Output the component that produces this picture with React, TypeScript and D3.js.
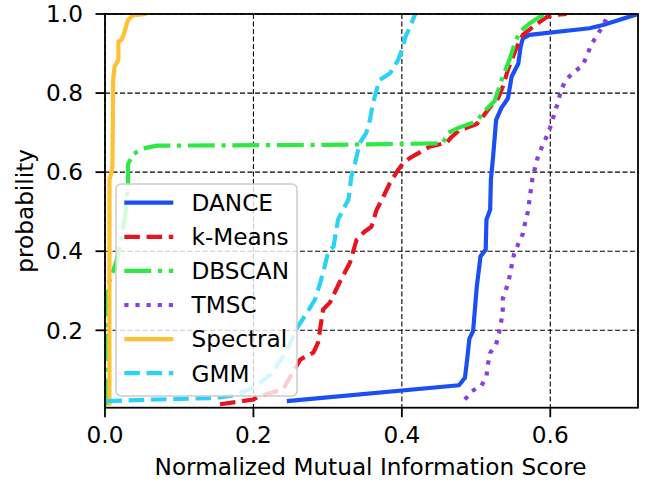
import React from "react";
import * as d3 from "d3";

type P = [number, number];

const xTicks = [0.0, 0.2, 0.4, 0.6];
const yTicks = [0.2, 0.4, 0.6, 0.8, 1.0];
const xLabel = "Normalized Mutual Information Score";
const yLabel = "probability";

const dance: P[] = [
  [0.245, 0.021], [0.477, 0.061], [0.485, 0.08], [0.488, 0.126], [0.491, 0.179],
  [0.496, 0.198], [0.501, 0.311], [0.506, 0.387], [0.513, 0.404], [0.514, 0.48],
  [0.519, 0.505], [0.52, 0.581], [0.523, 0.64], [0.527, 0.732], [0.534, 0.762],
  [0.543, 0.787], [0.548, 0.842], [0.557, 0.875], [0.56, 0.917], [0.563, 0.938],
  [0.572, 0.947], [0.653, 0.964], [0.671, 0.972], [0.718, 1.0],
];
const kmeans: P[] = [
  [0.155, 0.013], [0.2, 0.025], [0.207, 0.033], [0.24, 0.051], [0.263, 0.126],
  [0.281, 0.144], [0.287, 0.169], [0.294, 0.253], [0.303, 0.27], [0.316, 0.321],
  [0.33, 0.371], [0.339, 0.429], [0.35, 0.45], [0.359, 0.462], [0.366, 0.505],
  [0.373, 0.53], [0.384, 0.573], [0.395, 0.606], [0.402, 0.623], [0.411, 0.636],
  [0.438, 0.665], [0.46, 0.674], [0.467, 0.689], [0.478, 0.707], [0.487, 0.712],
  [0.501, 0.722], [0.509, 0.74], [0.519, 0.765], [0.53, 0.788], [0.536, 0.816],
  [0.543, 0.859], [0.548, 0.884], [0.555, 0.917], [0.563, 0.947], [0.575, 0.965],
  [0.586, 0.98], [0.595, 0.992], [0.603, 0.997], [0.622, 1.0],
];
const dbscan: P[] = [
  [0.003, 0.01], [0.003, 0.31], [0.011, 0.35], [0.016, 0.38], [0.022, 0.43],
  [0.028, 0.5], [0.031, 0.57], [0.031, 0.62], [0.038, 0.646], [0.052, 0.66],
  [0.07, 0.667], [0.3, 0.669], [0.455, 0.673], [0.462, 0.699], [0.476, 0.712],
  [0.494, 0.724], [0.502, 0.732], [0.512, 0.756], [0.525, 0.78], [0.536, 0.842],
  [0.545, 0.884], [0.552, 0.926], [0.559, 0.955], [0.572, 0.976], [0.586, 0.993],
  [0.597, 1.0],
];
const tmsc: P[] = [
  [0.485, 0.025], [0.494, 0.046], [0.507, 0.059], [0.514, 0.084], [0.516, 0.114],
  [0.519, 0.143], [0.527, 0.164], [0.531, 0.194], [0.534, 0.223], [0.536, 0.253],
  [0.536, 0.28], [0.541, 0.307], [0.545, 0.335], [0.548, 0.364], [0.551, 0.391],
  [0.557, 0.419], [0.563, 0.444], [0.566, 0.471], [0.57, 0.501], [0.572, 0.53],
  [0.576, 0.585], [0.584, 0.644], [0.59, 0.669], [0.596, 0.694], [0.602, 0.724],
  [0.606, 0.753], [0.611, 0.779], [0.614, 0.806], [0.621, 0.833], [0.631, 0.852],
  [0.643, 0.869], [0.649, 0.892], [0.655, 0.922], [0.662, 0.943], [0.669, 0.964],
  [0.676, 0.989], [0.677, 1.0],
];
const spectral: P[] = [
  [0.006, 0.01], [0.006, 0.581], [0.009, 0.602], [0.01, 0.614], [0.011, 0.833],
  [0.013, 0.867], [0.018, 0.884], [0.018, 0.93], [0.022, 0.934], [0.025, 0.947],
  [0.027, 0.96], [0.031, 0.985], [0.038, 0.997], [0.056, 1.0],
];
const gmm: P[] = [
  [0.002, 0.021], [0.07, 0.025], [0.15, 0.029], [0.175, 0.036], [0.2, 0.055],
  [0.225, 0.09], [0.245, 0.15], [0.26, 0.21], [0.272, 0.244], [0.283, 0.278],
  [0.29, 0.32], [0.296, 0.362], [0.301, 0.4], [0.308, 0.412], [0.314, 0.48],
  [0.323, 0.513], [0.328, 0.53], [0.332, 0.589], [0.337, 0.623], [0.343, 0.673],
  [0.352, 0.699], [0.357, 0.732], [0.361, 0.774], [0.366, 0.808], [0.37, 0.833],
  [0.384, 0.85], [0.391, 0.871], [0.395, 0.884], [0.4, 0.909], [0.405, 0.943],
  [0.412, 0.972], [0.418, 1.0],
];

const seriesNames = ["DANCE", "k-Means", "DBSCAN", "TMSC", "Spectral", "GMM"];
const seriesData = [dance, kmeans, dbscan, tmsc, spectral, gmm];
const seriesColors = ["#1a4ff2", "#e8131f", "#2ee844", "#8a3de0", "#ffc133", "#2ad2f7"];
const LW = 4.2;
const seriesDash = [
  "none",
  `${3.7 * LW},${1.6 * LW}`,
  `${6.4 * LW},${1.6 * LW},${1 * LW},${1.6 * LW}`,
  `${1 * LW},${1.65 * LW}`,
  "none",
  `${3.7 * LW},${1.6 * LW}`,
];

const W = 651;
const H = 485;
const left = 105;
const right = 638;
const top = 14;
const bottom = 407.7;
const FONT = "'DejaVu Sans', sans-serif";
const FS = 23.2;

export default function App() {
  const x = d3.scaleLinear().domain([0, 0.7182]).range([left, right]);
  const y = d3.scaleLinear().domain([0.0043, 1.0]).range([bottom, top]);
  const line = d3.line<P>().x((d) => x(d[0])).y((d) => y(d[1]));

  const legX = 116;
  const legY = 184;
  const legW = 181;
  const legH = 212;
  const rowY0 = 202.7;
  const rowStep = 34.1;

  return (
    <svg
      width={W}
      height={H}
      viewBox={`0 0 ${W} ${H}`}
      style={{ position: "absolute", left: 0, top: 0, background: "#fff" }}
      fontFamily={FONT}
    >
      <defs>
        <clipPath id="plotClip">
          <rect x={left} y={top} width={right - left} height={bottom - top} />
        </clipPath>
      </defs>
      <rect x={0} y={0} width={W} height={H} fill="#fff" />
      {/* grid */}
      <g stroke="#000" strokeWidth={1.1} strokeDasharray="5,2.5" fill="none">
        {xTicks.map((t) => (
          <line key={"gx" + t} x1={x(t)} x2={x(t)} y1={top} y2={bottom} />
        ))}
        {yTicks.map((t) => (
          <line key={"gy" + t} x1={left} x2={right} y1={y(t)} y2={y(t)} />
        ))}
      </g>
      {/* series */}
      <g clipPath="url(#plotClip)" fill="none">
        {seriesData.map((d, i) => (
          <path
            key={seriesNames[i]}
            d={line(d) || ""}
            stroke={seriesColors[i]}
            strokeWidth={LW}
            strokeDasharray={seriesDash[i]}
            strokeLinejoin="round"
            strokeLinecap="butt"
          />
        ))}
      </g>
      {/* spines */}
      <rect
        x={left}
        y={top}
        width={right - left}
        height={bottom - top}
        fill="none"
        stroke="#000"
        strokeWidth={1.8}
      />
      {/* ticks */}
      <g stroke="#000" strokeWidth={1.8}>
        {xTicks.map((t) => (
          <line key={"tx" + t} x1={x(t)} x2={x(t)} y1={bottom} y2={bottom + 9.5} />
        ))}
        {yTicks.map((t) => (
          <line key={"ty" + t} x1={left - 9.5} x2={left} y1={y(t)} y2={y(t)} />
        ))}
      </g>
      <g fontSize={FS} fill="#000">
        {xTicks.map((t) => (
          <text key={"lx" + t} x={x(t)} y={443} textAnchor="middle">
            {d3.format(".1f")(t)}
          </text>
        ))}
        {yTicks.map((t) => (
          <text key={"ly" + t} x={83} y={y(t) + 8.2} textAnchor="end">
            {d3.format(".1f")(t)}
          </text>
        ))}
        <text x={(left + right) / 2 - 1} y={475} textAnchor="middle">
          {xLabel}
        </text>
        <text
          transform={`translate(33,${(top + bottom) / 2}) rotate(-90)`}
          textAnchor="middle"
        >
          {yLabel}
        </text>
      </g>
      {/* legend */}
      <g>
        <rect
          x={legX}
          y={legY}
          width={legW}
          height={legH}
          rx={5}
          ry={5}
          fill="#fff"
          fillOpacity={0.8}
          stroke="#cccccc"
          strokeWidth={1.5}
        />
        {seriesNames.map((n, i) => {
          const ry = rowY0 + i * rowStep;
          return (
            <g key={"leg" + n}>
              <line
                x1={124.3}
                x2={173.3}
                y1={ry}
                y2={ry}
                stroke={seriesColors[i]}
                strokeWidth={LW}
                strokeDasharray={seriesDash[i]}
              />
              <text x={191.5} y={ry + 8.3} fontSize={FS} fill="#000">
                {n}
              </text>
            </g>
          );
        })}
      </g>
    </svg>
  );
}
